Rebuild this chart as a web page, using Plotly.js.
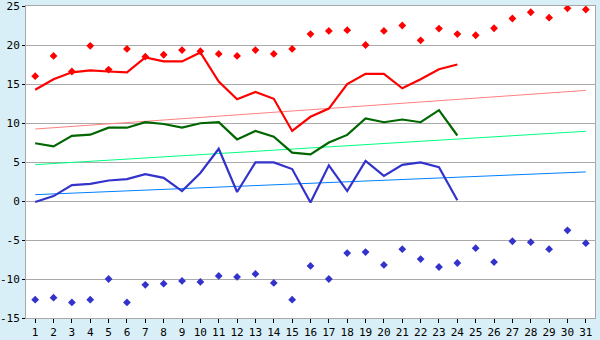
<!DOCTYPE html>
<html>
<head>
<meta charset="utf-8">
<script src="https://cdn.plot.ly/plotly-3.0.1.min.js"></script>
<style>html,body{margin:0;padding:0;background:#d9eff7;}#chart{width:600px;height:340px;}</style>
</head>
<body>
<div id="chart"></div>
<script>
var days = [];
for (var d = 1; d <= 31; d++) days.push(d);
var days24 = days.slice(0, 24);

var maxRecord = [16.0, 18.6, 16.6, 19.9, 16.85, 19.5, 18.5, 18.75, 19.35, 19.2,
  18.85, 18.6, 19.35, 18.85, 19.5, 21.4, 21.8, 21.9, 20.0, 21.8,
  22.5, 20.6, 22.1, 21.4, 21.25, 22.15, 23.4, 24.2, 23.5, 24.7, 24.55];
var maxTemp = [14.27, 15.6, 16.5, 16.75, 16.6, 16.5, 18.4, 17.9, 17.9, 19.05,
  15.3, 13.05, 13.97, 13.1, 8.98, 10.8, 11.85, 15.0, 16.3, 16.3,
  14.45, 15.6, 16.9, 17.5];
var meanTemp = [7.4, 7.0, 8.35, 8.5, 9.4, 9.4, 10.1, 9.87, 9.4, 9.97,
  10.1, 7.9, 8.98, 8.25, 6.2, 5.97, 7.5, 8.47, 10.6, 10.1,
  10.45, 10.1, 11.65, 8.4];
var minTemp = [-0.13, 0.63, 2.03, 2.2, 2.63, 2.8, 3.43, 2.97, 1.27, 3.6,
  6.7, 1.15, 4.95, 4.95, 4.1, -0.2, 4.57, 1.27, 5.13, 3.22,
  4.63, 4.95, 4.32, 0.1];
var minRecord = [-12.65, -12.4, -13.0, -12.65, -10.0, -13.0, -10.75, -10.6, -10.25, -10.37,
  -9.6, -9.73, -9.35, -10.5, -12.65, -8.33, -10.0, -6.68, -6.55, -8.2,
  -6.17, -7.45, -8.46, -7.95, -6.05, -7.83, -5.16, -5.28, -6.17, -3.76, -5.41];
var trendX = [1, 31];
var maxNormal = [9.23, 14.18];
var meanNormal = [4.66, 8.94];
var minNormal = [0.81, 3.73];
var yTicks = [-15, -10, -5, 0, 5, 10, 15, 20, 25];

var traces = [
  {x: trendX, y: maxNormal, mode: 'lines', line: {color: '#ff8080', width: 1}},
  {x: trendX, y: meanNormal, mode: 'lines', line: {color: '#00ff80', width: 1}},
  {x: trendX, y: minNormal, mode: 'lines', line: {color: '#0080ff', width: 1}},
  {x: days, y: maxRecord, mode: 'markers', marker: {symbol: 'diamond', size: 6, color: '#ff0000'}},
  {x: days, y: minRecord, mode: 'markers', marker: {symbol: 'diamond', size: 6, color: '#3333cc'}},
  {x: days24, y: maxTemp, mode: 'lines', line: {color: '#ff0000', width: 2.2}},
  {x: days24, y: meanTemp, mode: 'lines', line: {color: '#006600', width: 2.2}},
  {x: days24, y: minTemp, mode: 'lines', line: {color: '#3333cc', width: 2.2}}
];

var layout = {
  width: 600, height: 340,
  margin: {l: 26, r: 5, t: 6, b: 22},
  paper_bgcolor: '#d9eff7',
  plot_bgcolor: '#ffffff',
  showlegend: false,
  font: {family: 'DejaVu Sans Mono', size: 11, color: '#000000'},
  xaxis: {
    range: [0.5, 31.5], tickmode: 'array', tickvals: days, ticktext: days.map(String),
    showgrid: false, zeroline: false,
    showline: true, linecolor: '#a8a8a8', linewidth: 1, mirror: true,
    ticks: 'outside', ticklen: 4, tickcolor: '#000000', tickfont: {size: 11},
    ticklabeloverflow: 'allow'
  },
  yaxis: {
    range: [-15, 25], tickmode: 'array', tickvals: yTicks, ticktext: yTicks.map(String),
    showgrid: true, gridcolor: '#aaaaaa', gridwidth: 1, zeroline: false,
    showline: true, linecolor: '#a8a8a8', linewidth: 1, mirror: true,
    ticks: 'outside', ticklen: 3, tickcolor: '#000000', tickfont: {size: 11},
    ticklabeloverflow: 'allow'
  }
};

Plotly.newPlot('chart', traces, layout, {displayModeBar: false, staticPlot: true});
</script>
</body>
</html>
